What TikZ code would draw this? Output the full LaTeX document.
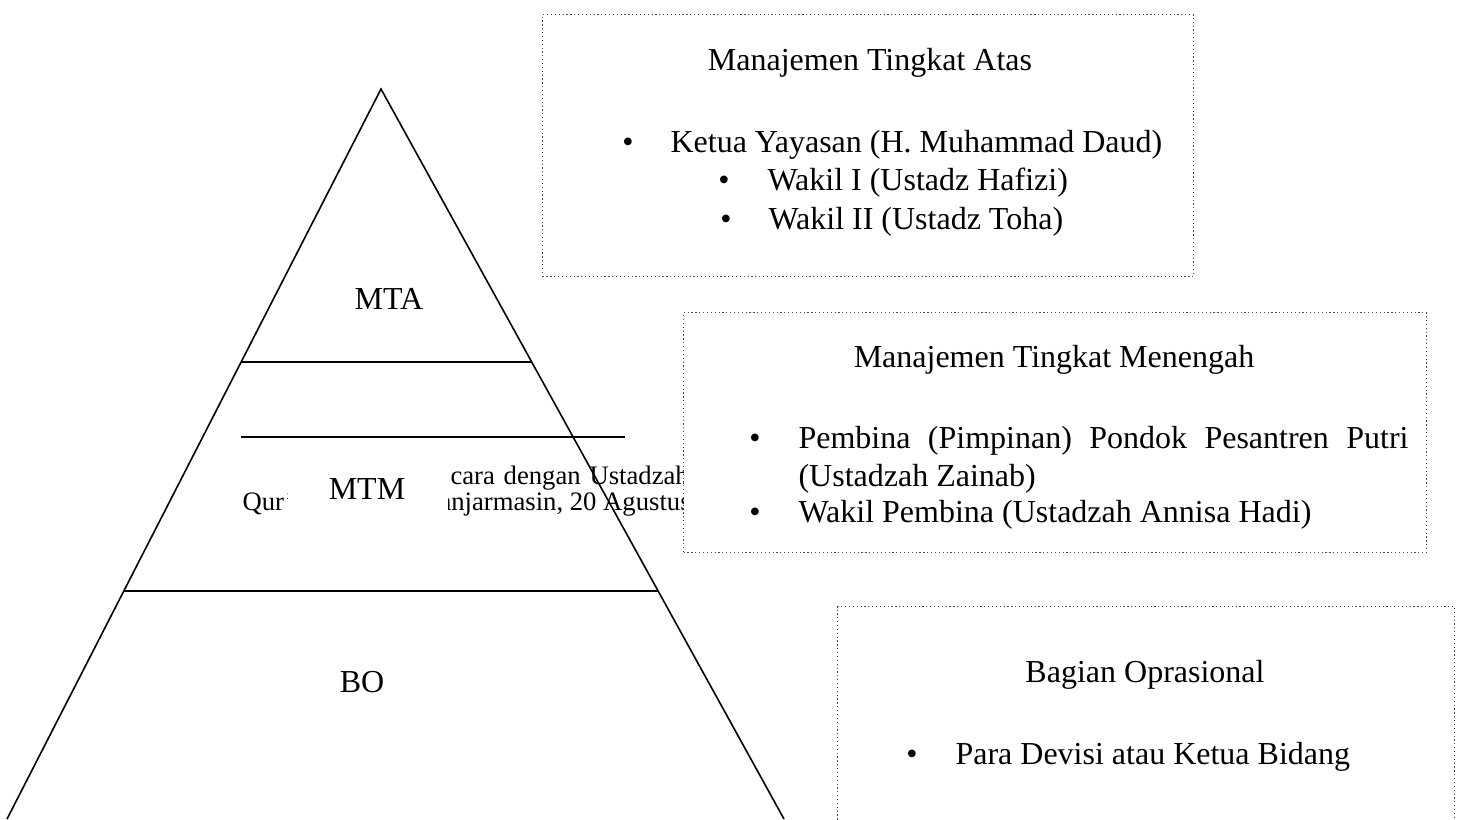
\documentclass[tikz,border=0pt]{standalone}
\usepackage{fontspec}
\setmainfont{Liberation Serif}
\usetikzlibrary{positioning, calc}

\begin{document}
\begin{tikzpicture}[
    x=0.375pt, y=-0.375pt,
    panel/.style={rectangle, draw=black!70, densely dotted, line width=0.45pt,
                  fill=white, anchor=north west, inner sep=0pt},
    txt/.style={inner sep=0pt, anchor=base west, font=\fontsize{12}{14}\selectfont},
    ttl/.style={txt, anchor=base},
    bul/.style={txt, anchor=base},
    frag/.style={inner sep=0pt, anchor=base west, font=\fontsize{10}{12}\selectfont},
    side/.style={line width=0.6pt},
    cut/.style={line width=0.9pt}
  ]
  \useasboundingbox[fill=white] (0,0) rectangle (1462,819);

  % pyramid
  \coordinate (apex)  at (381,89);
  \coordinate (lfoot) at (7,819);
  \coordinate (rfoot) at (784,819);
  \draw[cut] (241,362) -- (532,362);
  \draw[cut] (241,437) -- (625,437);
  \draw[cut] (124,591) -- (658,591);

  % text behind the pyramid, only partly visible
  \begin{scope}
    \clip (0,450) rectangle (287,525);
    \node[frag] (qur) at (242,510) {Qur’an};
  \end{scope}
  \begin{scope}
    \clip (448,450) rectangle (683,525);
    \node[frag] (wawan) at (450,484) {cara\hspace{0.33em}dengan\hspace{0.33em}Ustadzah};
    \node[frag] (bjm)   at (439,510) {anjarmasin, 20 Agustus};
  \end{scope}
  \draw[side] (lfoot) -- (apex) -- (rfoot);

  \node[ttl] (mta) at (389,309) {MTA};
  \node[ttl] (mtm) at (367,499) {MTM};
  \node[ttl] (bo)  at (362,692) {BO};

  % top level
  \node[panel, minimum width=244.1pt, minimum height=98.3pt] (atas) at (542,14) {};
  \node[ttl] (atasT) at (870,70) {Manajemen Tingkat Atas};
  \node[bul] (a1) at (628,152) {\textbullet};
  \node[txt] (a1t) at (670,152) {Ketua Yayasan (H. Muhammad Daud)};
  \node[bul] (a2) at (724,190) {\textbullet};
  \node[txt] (a2t) at (767,190) {Wakil I (Ustadz Hafizi)};
  \node[bul] (a3) at (726,229) {\textbullet};
  \node[txt] (a3t) at (768,229) {Wakil II (Ustadz Toha)};

  % middle level
  \node[panel, minimum width=278.6pt, minimum height=90pt] (tengah) at (683,312) {};
  \node[ttl] (tengahT) at (1054,367) {Manajemen Tingkat Menengah};
  \node[bul] (m1) at (755,448) {\textbullet};
  \node[txt] (m1t) at (798,448) {\makebox[228.75pt][s]{Pembina (Pimpinan) Pondok Pesantren Putri}};
  \node[txt] (m1u) at (798,486) {(Ustadzah Zainab)};
  \node[bul] (m2) at (755,522) {\textbullet};
  \node[txt] (m2t) at (798,522) {Wakil Pembina (Ustadzah Annisa Hadi)};

  % operational
  \node[panel, minimum width=231.4pt, minimum height=90pt] (ops) at (837,606) {};
  \node[ttl] (opsT) at (1145,682) {Bagian Oprasional};
  \node[bul] (o1) at (912,764) {\textbullet};
  \node[txt] (o1t) at (955,764) {Para Devisi atau Ketua Bidang};
\end{tikzpicture}
\end{document}
